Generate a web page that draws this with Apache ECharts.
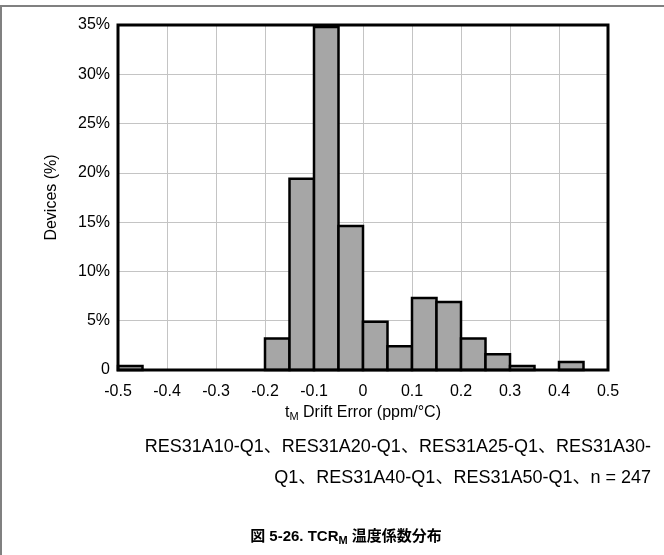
<!DOCTYPE html>
<html>
<head>
<meta charset="utf-8">
<script src="https://cdn.jsdelivr.net/npm/echarts@6/dist/echarts.min.js"></script>
<style>html,body{margin:0;padding:0;background:#fff;}#c{width:664px;height:555px;}</style>
</head>
<body>
<div id="c"></div>
<script>
// Histogram bins (ppm/°C) and share of devices (%)
var binStart = [-0.5, -0.45, -0.4, -0.35, -0.3, -0.25, -0.2, -0.15, -0.1, -0.05, 0, 0.05, 0.1, 0.15, 0.2, 0.25, 0.3, 0.35, 0.4, 0.45];
var binEnd   = [-0.45, -0.4, -0.35, -0.3, -0.25, -0.2, -0.15, -0.1, -0.05, 0, 0.05, 0.1, 0.15, 0.2, 0.25, 0.3, 0.35, 0.4, 0.45, 0.5];
var devicesPct = [0.4, 0, 0, 0, 0, 0, 3.2, 19.4, 34.8, 14.6, 4.9, 2.4, 7.3, 6.9, 3.2, 1.6, 0.4, 0, 0.8, 0];
var captionLine1 = 'RES31A10-Q1、RES31A20-Q1、RES31A25-Q1、RES31A30-';
var captionLine2 = 'Q1、RES31A40-Q1、RES31A50-Q1、n = 247';

var FONT = "'Liberation Sans', Arial, 'Noto Sans CJK JP', sans-serif";
var data = binStart.map(function (s, i) { return [s, binEnd[i], devicesPct[i]]; });

var chart = echarts.init(document.getElementById('c'), null, {renderer: 'canvas'});
chart.setOption({
  animation: false,
  backgroundColor: '#fff',
  textStyle: {fontFamily: FONT},
  grid: {left: 118, top: 25, right: 56, bottom: 185, show: true, borderColor: '#000', borderWidth: 3, backgroundColor: 'transparent', z: 3},
  xAxis: {
    type: 'value', min: -0.5, max: 0.5, interval: 0.1,
    axisLine: {show: false}, axisTick: {show: false},
    splitLine: {show: true, lineStyle: {color: '#c4c4c4', width: 1}},
    axisLabel: {color: '#000', fontSize: 16, fontFamily: FONT, margin: 14,
      formatter: function (v) { return String(Math.round(v * 10) / 10); }},
    name: '{t|t}{s|M}{t| Drift Error (ppm/°C)}',
    nameLocation: 'middle', nameGap: 33,
    nameTextStyle: {fontFamily: FONT, color: '#000',
      rich: {t: {fontSize: 16, fontFamily: FONT, color: '#000'},
             s: {fontSize: 11, fontFamily: FONT, color: '#000', verticalAlign: 'bottom', padding: [8, 0, 0, 0]}}}
  },
  yAxis: {
    type: 'value', min: 0, max: 35, interval: 5,
    axisLine: {show: false}, axisTick: {show: false},
    splitLine: {show: true, lineStyle: {color: '#c4c4c4', width: 1}},
    axisLabel: {color: '#000', fontSize: 16, fontFamily: FONT, margin: 8,
      formatter: function (v) { return v === 0 ? '0' : v + '%'; }},
    name: 'Devices (%)', nameLocation: 'middle', nameGap: 58,
    nameTextStyle: {fontSize: 16, fontFamily: FONT, color: '#000'}
  },
  series: [{
    type: 'custom',
    data: data,
    z: 2,
    renderItem: function (params, api) {
      var x0 = api.value(0), x1 = api.value(1), y = api.value(2);
      if (!y) return null;
      var pTop = api.coord([x0, y]);
      var pBot = api.coord([x1, 0]);
      return {
        type: 'rect',
        shape: {x: pTop[0], y: pTop[1], width: pBot[0] - pTop[0], height: pBot[1] - pTop[1]},
        style: {fill: '#a6a6a6', stroke: '#000', lineWidth: 2.5}
      };
    }
  }],
  graphic: [
    {type: 'line', shape: {x1: 0, y1: 6, x2: 664, y2: 6}, style: {stroke: '#808080', lineWidth: 2}},
    {type: 'line', shape: {x1: 1, y1: 6, x2: 1, y2: 555}, style: {stroke: '#808080', lineWidth: 2}},
    {type: 'text', x: 651, y: 447, style: {text: captionLine1, font: '18px ' + FONT, fill: '#000', textAlign: 'right', textVerticalAlign: 'middle'}},
    {type: 'text', x: 651, y: 478, style: {text: captionLine2, font: '18px ' + FONT, fill: '#000', textAlign: 'right', textVerticalAlign: 'middle'}},
    {type: 'text', x: 346, y: 537, style: {
      text: '{b|図 5-26. TCR}{s|M}{b| 温度係数分布}', textAlign: 'center', textVerticalAlign: 'middle',
      rich: {b: {fontSize: 15, fontWeight: 'bold', fontFamily: FONT, fill: '#000', color: '#000'},
             s: {fontSize: 11, fontWeight: 'bold', fontFamily: FONT, fill: '#000', color: '#000', verticalAlign: 'bottom', padding: [7, 0, 0, 0]}}
    }}
  ]
});
</script>
</body>
</html>
